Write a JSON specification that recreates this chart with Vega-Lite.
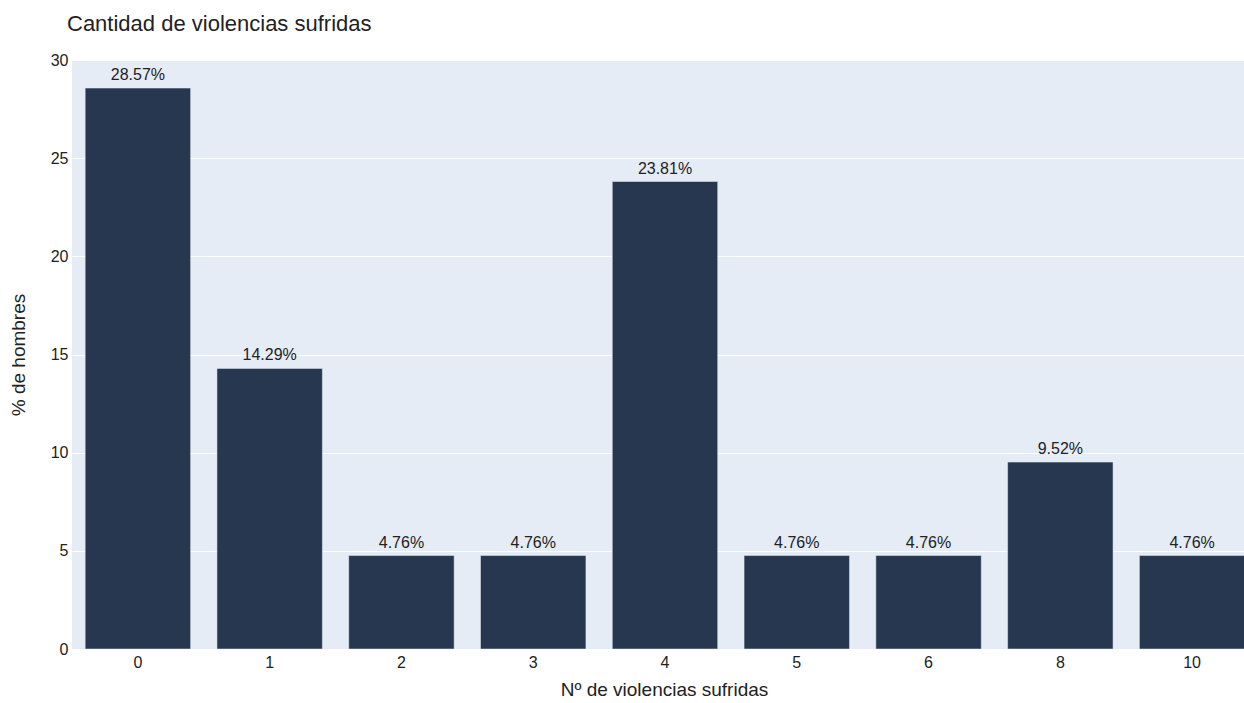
{
  "$schema": "https://vega.github.io/schema/vega-lite/v6.json",
  "width": 1186,
  "height": 589,
  "autosize": {"type": "none"},
  "padding": {"left": 72, "top": 60, "right": 0, "bottom": 54},
  "background": "white",
  "title": {
    "text": "Cantidad de violencias sufridas",
    "anchor": "start",
    "frame": "group",
    "dx": -5,
    "offset": 16,
    "font": "Liberation Sans",
    "fontSize": 22,
    "fontWeight": "normal",
    "color": "#222222"
  },
  "config": {
    "view": {"fill": "#E5ECF6", "stroke": null},
    "font": "Liberation Sans"
  },
  "data": {
    "values": [
      {"n": "0", "pct": 28.57},
      {"n": "1", "pct": 14.29},
      {"n": "2", "pct": 4.76},
      {"n": "3", "pct": 4.76},
      {"n": "4", "pct": 23.81},
      {"n": "5", "pct": 4.76},
      {"n": "6", "pct": 4.76},
      {"n": "8", "pct": 9.52},
      {"n": "10", "pct": 4.76}
    ]
  },
  "transform": [{"calculate": "format(datum.pct, '.2f') + '%'", "as": "label"}],
  "encoding": {
    "x": {
      "field": "n",
      "type": "nominal",
      "sort": null,
      "scale": {"paddingInner": 0.2, "paddingOuter": 0.1},
      "axis": {
        "title": "Nº de violencias sufridas",
        "titleFont": "Liberation Sans",
        "titleFontSize": 19,
        "titleFontWeight": "normal",
        "titleColor": "#222222",
        "titlePadding": 10,
        "titleX": 592,
        "labelAngle": 0,
        "labelFont": "Liberation Sans",
        "labelFontSize": 16,
        "labelColor": "#222222",
        "labelPadding": 5,
        "ticks": false,
        "domain": false,
        "grid": false
      }
    },
    "y": {
      "field": "pct",
      "type": "quantitative",
      "scale": {"domain": [0, 30], "nice": false},
      "axis": {
        "title": "% de hombres",
        "titleFont": "Liberation Sans",
        "titleFontSize": 19,
        "titleFontWeight": "normal",
        "titleColor": "#222222",
        "titlePadding": 22,
        "values": [0, 5, 10, 15, 20, 25, 30],
        "labelFont": "Liberation Sans",
        "labelFontSize": 16,
        "labelColor": "#222222",
        "labelPadding": 4,
        "ticks": false,
        "domain": false,
        "grid": true,
        "gridColor": "white",
        "gridWidth": 1
      }
    }
  },
  "layer": [
    {
      "mark": {"type": "bar", "color": "#27374F", "stroke": "#E5ECF6", "strokeWidth": 0.5}
    },
    {
      "mark": {"type": "text", "baseline": "bottom", "dy": -5, "font": "Liberation Sans", "fontSize": 16, "color": "#222222"},
      "encoding": {"text": {"field": "label"}}
    }
  ]
}
